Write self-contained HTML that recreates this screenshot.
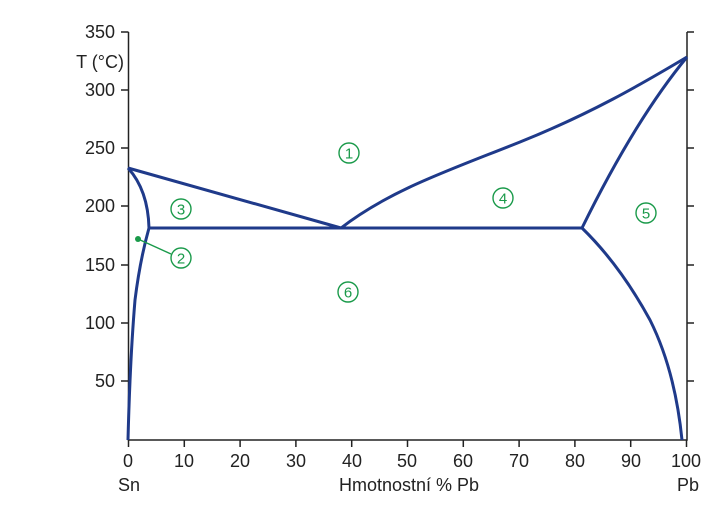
<!DOCTYPE html>
<html><head><meta charset="utf-8"><style>
html,body{margin:0;padding:0;background:#fff;}
text{font-family:"Liberation Sans",sans-serif;fill:#222;}
</style></head><body>
<svg width="724" height="512" viewBox="0 0 724 512" xmlns="http://www.w3.org/2000/svg">
<g stroke="#222" stroke-width="1.5" fill="none">
<path d="M128.5 32V440H687V32"/>
<path d="M121 32H128.5M121 90H128.5M121 148H128.5M121 206H128.5M121 265H128.5M121 323H128.5M121 381H128.5"/>
<path d="M687 90H694M687 148H694M687 206H694M687 265H694M687 323H694M687 381H694M687 32H694"/>
<path d="M128.5 440v7M184.3 440v7M240.1 440v7M295.9 440v7M351.7 440v7M407.5 440v7M463.3 440v7M519.1 440v7M574.9 440v7M630.7 440v7M686.5 440v7"/>
</g>
<g font-size="18" text-anchor="end">
<text x="115" y="38">350</text>
<text x="124" y="68">T (°C)</text>
<text x="115" y="96">300</text>
<text x="115" y="154">250</text>
<text x="115" y="212">200</text>
<text x="115" y="271">150</text>
<text x="115" y="329">100</text>
<text x="115" y="387">50</text>
</g>
<g font-size="18" text-anchor="middle">
<text x="128" y="467">0</text><text x="184" y="467">10</text><text x="240" y="467">20</text>
<text x="296" y="467">30</text><text x="352" y="467">40</text><text x="407" y="467">50</text>
<text x="463" y="467">60</text><text x="519" y="467">70</text><text x="575" y="467">80</text>
<text x="631" y="467">90</text><text x="686" y="467">100</text>
<text x="129" y="491">Sn</text><text x="409" y="491">Hmotnostní % Pb</text><text x="688" y="491">Pb</text>
</g>
<g stroke="#1f3a8a" stroke-width="3" fill="none" stroke-linejoin="round">
<path d="M128 168L341 228"/>
<path d="M149 228H582"/>
<path d="M128 168Q148 190 149 228Q140 260 135 300Q130 360 128 440"/>
<path d="M341 228C390 190 450 170 520 142S640 85 687 57"/>
<path d="M582 228Q635 120 687 57"/>
<path d="M582 228Q620 265 650 320Q675 370 682 440"/>
</g>
<path d="M138 239L171 254" stroke="#1a9a4a" stroke-width="1.5"/>
<circle cx="138" cy="239" r="3" fill="#1a9a4a"/>
<g fill="none" stroke="#1a9a4a" stroke-width="1.4">
<circle cx="349" cy="153" r="10"/>
<circle cx="181" cy="209" r="10"/>
<circle cx="181" cy="258" r="10"/>
<circle cx="503" cy="198" r="10"/>
<circle cx="646" cy="213" r="10"/>
<circle cx="348" cy="292" r="10"/>
</g>
<g font-size="15" text-anchor="middle" style="fill:#1a9a4a">
<text style="fill:#1a9a4a" x="349" y="158.5">1</text>
<text style="fill:#1a9a4a" x="181" y="214.5">3</text>
<text style="fill:#1a9a4a" x="181" y="263.5">2</text>
<text style="fill:#1a9a4a" x="503" y="203.5">4</text>
<text style="fill:#1a9a4a" x="646" y="218.5">5</text>
<text style="fill:#1a9a4a" x="348" y="297.5">6</text>
</g>
</svg>
</body></html>
